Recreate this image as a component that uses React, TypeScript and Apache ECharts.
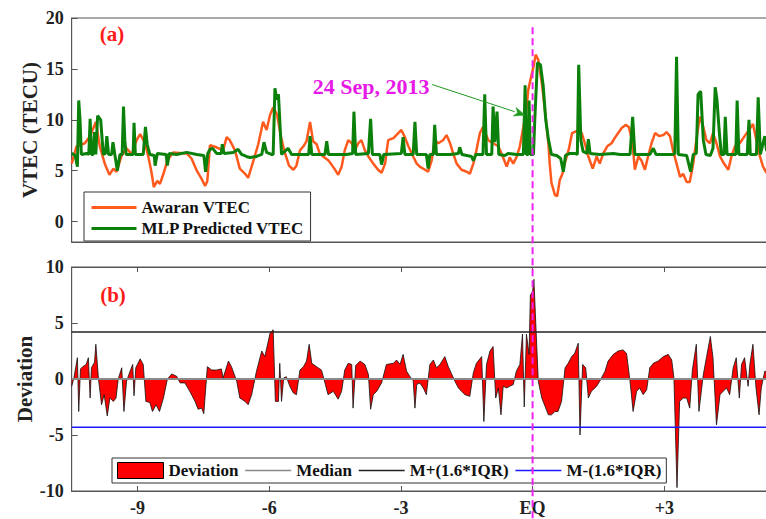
import React, { useEffect, useRef } from 'react';
import * as echarts from 'echarts';

// ---- axes / ticks ----
const dayRange: [number, number] = [-10.5, 5.5];
const xTickValues = [-9, -6, -3, 0, 3];
const xTickLabels = ['-9', '-6', '-3', 'EQ', '+3'];
const vtecRange: [number, number] = [-2, 20];
const vtecTicks = [0, 5, 10, 15, 20];
const deviationRange: [number, number] = [-10, 10];

// ---- series (day relative to EQ, value) ----
const awaranVTEC: [number, number][] = [
  [-10.5, 5.7], [-10.39, 7.4], [-10.2, 7.7], [-10.08, 8.4], [-9.95, 9.8], [-9.86, 7.4], [-9.74, 5.6], [-9.64, 4.6],
  [-9.55, 5.2], [-9.48, 4.9], [-9.36, 6.5], [-9.25, 7.2], [-9.13, 6.6], [-9.02, 8.0], [-8.94, 8.6], [-8.83, 7.7],
  [-8.75, 6.3], [-8.68, 4.8], [-8.63, 3.4], [-8.55, 4.0], [-8.49, 3.7], [-8.41, 4.7], [-8.32, 6.0], [-8.19, 6.8],
  [-7.88, 6.7], [-7.77, 6.2], [-7.65, 5.0], [-7.54, 4.2], [-7.46, 3.5], [-7.41, 4.0], [-7.35, 7.5], [-7.2, 7.3],
  [-7.05, 7.0], [-6.97, 8.3], [-6.9, 8.0], [-6.78, 7.0], [-6.67, 5.2], [-6.55, 4.7], [-6.48, 4.3], [-6.38, 5.7],
  [-6.25, 7.6], [-6.14, 9.8], [-6.06, 9.0], [-5.98, 10.5], [-5.91, 11.2], [-5.82, 10.5], [-5.74, 8.5], [-5.66, 7.0],
  [-5.55, 5.5], [-5.45, 5.1], [-5.38, 5.5], [-5.3, 7.0], [-5.22, 7.4], [-5.15, 7.9], [-5.07, 9.8], [-5.0, 7.9],
  [-4.92, 7.6], [-4.85, 6.7], [-4.77, 6.4], [-4.65, 6.0], [-4.58, 5.6], [-4.5, 5.1], [-4.43, 4.6], [-4.35, 5.4],
  [-4.28, 7.0], [-4.2, 8.0], [-4.12, 7.7], [-4.05, 7.0], [-3.97, 7.7], [-3.9, 8.0], [-3.82, 7.0], [-3.74, 6.4],
  [-3.63, 5.7], [-3.52, 5.1], [-3.44, 4.8], [-3.36, 5.7], [-3.29, 8.0], [-3.17, 8.2], [-3.06, 8.7], [-2.99, 9.0],
  [-2.91, 8.3], [-2.83, 7.4], [-2.72, 6.4], [-2.64, 5.7], [-2.57, 5.4], [-2.45, 5.1], [-2.38, 4.9], [-2.3, 6.0],
  [-2.23, 8.0], [-2.15, 7.7], [-2.04, 8.0], [-1.96, 8.5], [-1.88, 7.7], [-1.81, 6.7], [-1.73, 5.7], [-1.62, 5.1],
  [-1.5, 4.9], [-1.43, 4.7], [-1.35, 5.7], [-1.28, 7.0], [-1.2, 8.7], [-1.13, 9.3], [-1.01, 8.0], [-0.9, 7.7],
  [-0.78, 7.4], [-0.68, 6.4], [-0.59, 5.4], [-0.52, 6.3], [-0.44, 5.7], [-0.36, 6.4], [-0.29, 7.4], [-0.21, 9.3],
  [-0.15, 10.6], [-0.1, 12.9], [-0.05, 13.9], [0.02, 15.2], [0.07, 16.4], [0.13, 15.9], [0.21, 13.6], [0.28, 11.0],
  [0.36, 7.7], [0.39, 5.7], [0.43, 3.8], [0.51, 2.6], [0.56, 2.5], [0.62, 4.1], [0.68, 4.7], [0.75, 6.0],
  [0.83, 7.2], [0.9, 8.7], [1.0, 8.9], [1.12, 8.7], [1.19, 7.7], [1.27, 6.4], [1.37, 5.2], [1.46, 6.4],
  [1.53, 5.7], [1.61, 6.7], [1.7, 7.4], [1.8, 7.7], [1.87, 8.2], [1.95, 8.7], [2.03, 9.2], [2.12, 9.5],
  [2.19, 9.3], [2.27, 8.0], [2.33, 5.1], [2.41, 6.4], [2.48, 6.0], [2.56, 5.1], [2.63, 6.4], [2.71, 7.7],
  [2.79, 8.7], [2.88, 8.4], [2.98, 8.5], [3.05, 8.8], [3.13, 8.4], [3.2, 7.0], [3.28, 5.7], [3.36, 4.4],
  [3.43, 4.7], [3.51, 3.9], [3.58, 3.9], [3.66, 5.7], [3.73, 8.0], [3.81, 10.3], [3.89, 9.3], [3.96, 8.0],
  [4.04, 7.7], [4.11, 8.7], [4.19, 7.7], [4.27, 6.4], [4.36, 5.7], [4.46, 5.1], [4.53, 6.4], [4.61, 7.4],
  [4.72, 7.7], [4.83, 8.4], [4.93, 9.0], [5.02, 9.6], [5.1, 8.0], [5.18, 6.4], [5.25, 5.4], [5.33, 4.8], [5.5, 5.6],
];

const mlpVTEC: [number, number][] = [
  [-10.5, 6.7], [-10.42, 6.5], [-10.37, 5.4], [-10.34, 11.9], [-10.31, 10.0], [-10.28, 6.6], [-10.16, 6.7], [-10.11, 6.6],
  [-10.08, 10.1], [-10.05, 6.6], [-10.01, 6.6], [-9.98, 8.8], [-9.95, 6.6], [-9.91, 10.4], [-9.84, 10.0], [-9.78, 6.6],
  [-9.73, 6.7], [-9.7, 8.4], [-9.66, 6.6], [-9.59, 6.6], [-9.56, 7.8], [-9.51, 6.4], [-9.46, 5.0], [-9.4, 6.6],
  [-9.35, 6.6], [-9.32, 11.3], [-9.29, 8.0], [-9.26, 6.6], [-9.13, 6.6], [-9.1, 6.6], [-9.08, 9.7], [-9.05, 6.6],
  [-8.87, 6.6], [-8.82, 9.3], [-8.78, 7.6], [-8.72, 6.6], [-8.62, 6.5], [-8.6, 5.5], [-8.55, 6.7], [-8.35, 6.6],
  [-8.32, 5.5], [-8.28, 6.7], [-8.11, 6.6], [-7.88, 6.8], [-7.65, 6.6], [-7.49, 6.5], [-7.45, 4.9], [-7.4, 6.7],
  [-7.35, 7.1], [-7.29, 7.2], [-7.2, 6.7], [-7.09, 6.7], [-7.07, 7.6], [-7.03, 6.7], [-6.82, 6.8], [-6.71, 7.1],
  [-6.63, 6.6], [-6.52, 6.4], [-6.44, 6.3], [-6.29, 6.4], [-6.17, 6.6], [-6.12, 7.8], [-6.06, 6.8], [-5.95, 6.6],
  [-5.91, 6.6], [-5.87, 13.1], [-5.83, 12.0], [-5.79, 12.5], [-5.76, 10.0], [-5.72, 6.6], [-5.57, 7.2], [-5.49, 6.6],
  [-5.3, 6.6], [-5.1, 6.6], [-5.07, 8.4], [-5.03, 6.6], [-4.73, 6.6], [-4.69, 7.9], [-4.65, 6.6], [-4.24, 6.6],
  [-4.1, 6.7], [-4.07, 10.8], [-4.03, 6.6], [-3.74, 6.7], [-3.69, 10.1], [-3.65, 6.6], [-3.48, 6.6], [-3.44, 5.6],
  [-3.39, 6.6], [-2.99, 6.7], [-2.95, 8.3], [-2.91, 6.6], [-2.72, 6.6], [-2.68, 9.8], [-2.64, 6.6], [-2.42, 6.6],
  [-2.38, 5.2], [-2.34, 6.6], [-2.26, 6.6], [-2.23, 9.5], [-2.19, 6.6], [-1.88, 6.6], [-1.69, 6.7], [-1.66, 7.3],
  [-1.61, 6.6], [-1.39, 6.4], [-1.35, 6.0], [-1.29, 6.6], [-1.13, 6.6], [-1.09, 12.5], [-1.05, 6.6], [-0.93, 6.6],
  [-0.9, 11.3], [-0.86, 7.8], [-0.81, 10.8], [-0.77, 6.6], [-0.63, 6.5], [-0.55, 6.7], [-0.36, 6.6], [-0.21, 6.6],
  [-0.17, 13.4], [-0.14, 6.6], [-0.1, 6.6], [-0.08, 11.9], [-0.05, 6.6], [0.02, 6.6], [0.05, 10.0], [0.11, 15.6],
  [0.18, 15.4], [0.24, 13.4], [0.3, 10.0], [0.36, 8.1], [0.43, 6.6], [0.55, 6.5], [0.64, 6.2], [0.7, 4.9],
  [0.75, 6.5], [0.85, 6.7], [0.96, 6.7], [1.02, 6.6], [1.05, 15.4], [1.1, 8.0], [1.15, 6.9], [1.24, 6.7],
  [1.27, 8.1], [1.31, 6.7], [1.53, 6.6], [1.84, 6.7], [1.99, 6.6], [2.22, 6.6], [2.28, 10.3], [2.33, 6.6],
  [2.67, 6.6], [2.75, 7.2], [2.81, 6.6], [3.2, 6.6], [3.24, 6.7], [3.28, 16.2], [3.32, 6.6], [3.51, 6.5],
  [3.6, 4.9], [3.66, 6.6], [3.73, 6.7], [3.77, 12.5], [3.83, 12.8], [3.89, 8.0], [3.95, 6.6], [4.05, 6.5],
  [4.11, 7.2], [4.16, 13.2], [4.2, 12.0], [4.25, 9.0], [4.3, 6.6], [4.36, 6.6], [4.39, 10.3], [4.43, 6.6],
  [4.63, 6.6], [4.66, 11.9], [4.7, 6.6], [4.89, 6.6], [4.93, 10.0], [4.96, 6.6], [5.1, 6.6], [5.14, 12.2],
  [5.19, 6.6], [5.29, 8.4], [5.33, 7.0], [5.5, 6.8],
];

const deviation: [number, number][] = [
  [-10.5, -0.65], [-10.45, 0.1], [-10.37, 1.9], [-10.34, -2.9], [-10.3, 0.9], [-10.25, 1.1], [-10.17, 1.3], [-10.12, 1.9],
  [-10.08, -1.7], [-10.05, 1.0], [-9.98, 1.5], [-9.95, 3.1], [-9.89, 0.0], [-9.82, -2.3], [-9.76, -1.4], [-9.69, -3.3],
  [-9.63, -1.7], [-9.55, -2.0], [-9.49, -1.7], [-9.44, 0.0], [-9.36, 1.0], [-9.31, -2.9], [-9.25, -0.2], [-9.17, 0.7],
  [-9.11, 1.3], [-9.08, -1.5], [-9.04, 1.0], [-8.94, 1.8], [-8.87, 1.3], [-8.81, -2.0], [-8.72, -2.1], [-8.66, -2.9],
  [-8.58, -2.3], [-8.5, -2.9], [-8.41, -1.7], [-8.32, 0.0], [-8.22, 0.45], [-8.11, 0.25], [-8.03, -0.35], [-7.92, -0.35],
  [-7.81, -1.1], [-7.69, -2.0], [-7.62, -2.7], [-7.54, -2.6], [-7.49, -3.1], [-7.41, 1.1], [-7.31, 0.8], [-7.2, 0.8],
  [-7.09, 0.9], [-7.05, 0.1], [-6.93, 1.6], [-6.86, 1.1], [-6.74, -0.2], [-6.67, -1.7], [-6.55, -2.0], [-6.48, -2.3],
  [-6.4, -1.4], [-6.29, 0.7], [-6.17, 2.5], [-6.1, 2.0], [-5.98, 4.1], [-5.91, 4.4], [-5.86, -2.0], [-5.79, -2.0],
  [-5.76, 1.4], [-5.72, -2.0], [-5.67, 0.1], [-5.61, 0.2], [-5.53, -0.65], [-5.45, -1.25], [-5.38, -1.4], [-5.3, 0.8],
  [-5.22, 1.1], [-5.15, 1.6], [-5.09, 3.1], [-5.03, 1.4], [-4.92, 1.1], [-4.81, 0.8], [-4.73, -0.35], [-4.66, -1.4],
  [-4.54, -1.1], [-4.43, -1.8], [-4.35, -1.1], [-4.28, 0.8], [-4.2, 1.4], [-4.12, 1.3], [-4.09, -2.6], [-4.03, 1.2],
  [-3.93, 1.6], [-3.82, 1.3], [-3.74, 0.4], [-3.69, -2.7], [-3.63, -1.4], [-3.55, -1.1], [-3.44, -0.35], [-3.33, 1.3],
  [-3.17, 1.4], [-3.1, 1.7], [-3.02, 1.3], [-2.95, 2.2], [-2.87, 0.7], [-2.8, 0.25], [-2.72, -0.15], [-2.68, -2.6],
  [-2.64, -0.5], [-2.57, -0.35], [-2.49, -0.8], [-2.42, -1.4], [-2.34, 1.3], [-2.26, 1.7], [-2.19, 1.0], [-2.11, 1.3],
  [-2.0, 2.0], [-1.92, 1.1], [-1.85, 0.5], [-1.77, -0.2], [-1.69, -0.8], [-1.62, -1.1], [-1.54, -1.4], [-1.43, -1.55],
  [-1.35, 0.55], [-1.28, 1.4], [-1.16, 2.0], [-1.11, -3.8], [-1.05, 1.3], [-0.97, 2.5], [-0.9, 2.9], [-0.84, -1.7],
  [-0.78, -0.8], [-0.72, -3.2], [-0.67, -0.65], [-0.59, -0.8], [-0.52, -0.65], [-0.44, -0.5], [-0.37, 0.7], [-0.29, 1.3],
  [-0.23, 4.0], [-0.19, -2.5], [-0.14, 4.0], [-0.08, 2.2], [-0.05, 7.5], [0.0, 7.8], [0.03, 8.9], [0.08, 4.3],
  [0.13, -0.2], [0.21, -1.7], [0.28, -2.4], [0.36, -3.2], [0.43, -3.2], [0.51, -2.9], [0.58, -2.9], [0.66, -2.0],
  [0.74, 1.0], [0.81, 1.4], [0.89, 2.0], [0.96, 2.3], [1.04, 3.2], [1.08, -5.0], [1.14, 1.3], [1.21, 1.0],
  [1.27, -1.7], [1.34, -1.1], [1.46, -0.65], [1.53, -0.2], [1.65, 0.7], [1.72, 1.6], [1.84, 2.2], [1.95, 2.5],
  [2.06, 2.6], [2.14, 2.3], [2.22, -0.2], [2.29, -2.9], [2.37, -1.1], [2.44, -0.8], [2.52, -1.4], [2.6, -0.95],
  [2.67, 1.0], [2.75, 1.4], [2.86, 1.6], [2.98, 2.0], [3.09, 2.2], [3.17, 1.7], [3.22, 0.1], [3.29, -9.7],
  [3.35, -2.0], [3.43, -1.7], [3.51, -1.7], [3.58, -2.6], [3.64, 0.8], [3.73, 3.1], [3.79, -2.9], [3.89, 0.4],
  [3.96, 1.9], [4.05, 3.8], [4.11, 1.9], [4.19, -4.1], [4.27, -1.4], [4.34, -1.1], [4.42, -0.8], [4.49, -1.4],
  [4.57, 1.0], [4.64, 1.9], [4.71, -1.7], [4.76, 1.3], [4.83, 1.9], [4.91, -0.65], [4.95, 1.3], [5.02, 3.1],
  [5.09, -0.8], [5.16, -3.2], [5.21, -0.8], [5.29, 0.7], [5.5, 0.5],
];

const medianLevel = 0;
const upperLimit = 4.2; // M+(1.6*IQR)
const lowerLimit = -4.3; // M-(1.6*IQR)

// ---- annotations (data coordinates) ----
const eventLabel = '24 Sep, 2013';
const eventLabelAt: [number, number] = [-3.68, 13.3];
const arrowFrom: [number, number] = [-2.29, 13.47];
const arrowTo: [number, number] = [-0.17, 10.46];
const eqLineTop = 19.1;
const panelA: [number, number] = [-9.58, 18.4];
const panelB: [number, number] = [-9.56, 7.5];

const FONT = '"Liberation Serif", "Times New Roman", serif';
const AXIS_COLOR = '#555';
const TEXT_COLOR = '#222';

export default function App() {
  const ref = useRef<HTMLDivElement>(null);

  useEffect(() => {
    if (!ref.current) return;
    const chart = echarts.init(ref.current, undefined, { renderer: 'svg' });

    const tickFont = { fontFamily: FONT, fontWeight: 'bold' as const, fontSize: 18, color: TEXT_COLOR };
    const legendText = { fontFamily: FONT, fontWeight: 'bold' as const, fontSize: 17, color: '#111' };
    const xFormatter = (v: number) => {
      const i = xTickValues.indexOf(v);
      return i >= 0 ? xTickLabels[i] : '';
    };
    const flat = (level: number): [number, number][] => [[dayRange[0], level], [dayRange[1], level]];

    const option: any = {
      animation: false,
      backgroundColor: '#fff',
      grid: [
        { left: 71.7, top: 18, right: -8, height: 224, show: true, borderColor: AXIS_COLOR, borderWidth: 1, containLabel: false, outerBoundsMode: 'none' },
        { left: 71.7, top: 267, right: -8, height: 224, show: true, borderColor: AXIS_COLOR, borderWidth: 1, containLabel: false, outerBoundsMode: 'none' },
      ],
      xAxis: [
        {
          type: 'value', gridIndex: 0, min: dayRange[0], max: dayRange[1],
          axisLine: { show: true, onZero: false, lineStyle: { color: AXIS_COLOR } },
          axisTick: { show: false }, axisLabel: { show: false }, splitLine: { show: false },
        },
        {
          type: 'value', gridIndex: 1, min: dayRange[0], max: dayRange[1],
          axisLine: { show: true, onZero: false, lineStyle: { color: AXIS_COLOR } },
          axisTick: { show: true, inside: true, length: 5, customValues: xTickValues, lineStyle: { color: AXIS_COLOR } },
          axisLabel: { show: true, customValues: xTickValues, formatter: xFormatter, margin: 8, ...tickFont },
          splitLine: { show: false },
        },
        {
          type: 'value', gridIndex: 1, position: 'top', min: dayRange[0], max: dayRange[1],
          axisLine: { show: true, onZero: false, lineStyle: { color: AXIS_COLOR } },
          axisTick: { show: true, inside: true, length: 5, customValues: xTickValues, lineStyle: { color: AXIS_COLOR } },
          axisLabel: { show: false }, splitLine: { show: false },
        },
      ],
      yAxis: [
        {
          type: 'value', gridIndex: 0, min: vtecRange[0], max: vtecRange[1],
          name: 'VTEC (TECU)', nameLocation: 'middle', nameGap: 31, nameMoveOverlap: false,
          nameTextStyle: { fontFamily: FONT, fontWeight: 'bold', fontSize: 21, color: TEXT_COLOR },
          axisLine: { show: true, onZero: false, lineStyle: { color: AXIS_COLOR } },
          axisTick: { show: true, inside: true, length: 6, customValues: vtecTicks, lineStyle: { color: AXIS_COLOR } },
          axisLabel: { show: true, customValues: vtecTicks, margin: 8, ...tickFont },
          splitLine: { show: false },
        },
        {
          type: 'value', gridIndex: 1, min: deviationRange[0], max: deviationRange[1], interval: 5,
          name: 'Deviation', nameLocation: 'middle', nameGap: 36, nameMoveOverlap: false,
          nameTextStyle: { fontFamily: FONT, fontWeight: 'bold', fontSize: 21, color: TEXT_COLOR },
          axisLine: { show: true, onZero: false, lineStyle: { color: AXIS_COLOR } },
          axisTick: { show: true, inside: true, length: 6, lineStyle: { color: AXIS_COLOR } },
          axisLabel: { show: true, margin: 8, ...tickFont },
          splitLine: { show: false },
        },
      ],
      legend: [
        {
          data: ['Awaran VTEC', 'MLP Predicted VTEC'],
          orient: 'vertical', left: 84, top: 192, padding: [7, 6, 4, 6], itemGap: 4,
          itemWidth: 45, itemHeight: 14, borderColor: '#333', borderWidth: 1, borderRadius: 0,
          backgroundColor: '#fff', textStyle: legendText, selectedMode: false,
          itemStyle: { opacity: 0 }, lineStyle: { width: 3 },
        },
        {
          data: [
            { name: 'Deviation', icon: 'rect', itemStyle: { color: '#ff0000', borderColor: '#000', borderWidth: 1, opacity: 1 } },
            'Median', 'M+(1.6*IQR)', 'M-(1.6*IQR)',
          ],
          orient: 'horizontal', left: 112, top: 458, padding: [4, 5, 4, 5], itemGap: 6,
          itemWidth: 46, itemHeight: 16, borderColor: '#333', borderWidth: 1, borderRadius: 0,
          backgroundColor: '#fff', textStyle: legendText, selectedMode: false,
          itemStyle: { opacity: 0 }, lineStyle: { width: 1.6 },
        },
      ],
      series: [
        {
          name: 'Awaran VTEC', type: 'line', xAxisIndex: 0, yAxisIndex: 0, data: awaranVTEC,
          symbol: 'none', lineStyle: { color: '#FF5A1E', width: 2.5 }, itemStyle: { color: '#FF5A1E' }, z: 2,
        },
        {
          name: 'MLP Predicted VTEC', type: 'line', xAxisIndex: 0, yAxisIndex: 0, data: mlpVTEC,
          symbol: 'none', lineStyle: { color: '#0B800B', width: 3 }, itemStyle: { color: '#0B800B' }, z: 3,
        },
        {
          name: 'Deviation', type: 'line', xAxisIndex: 1, yAxisIndex: 1, data: deviation,
          symbol: 'none', lineStyle: { color: '#111', width: 0.8 }, itemStyle: { color: '#ff0000' },
          areaStyle: { color: '#ff0000', opacity: 1 }, z: 2,
        },
        {
          name: 'Median', type: 'line', xAxisIndex: 1, yAxisIndex: 1, data: flat(medianLevel),
          symbol: 'none', lineStyle: { color: '#8a8a8a', width: 2 }, itemStyle: { color: '#8a8a8a' }, z: 3,
        },
        {
          name: 'M+(1.6*IQR)', type: 'line', xAxisIndex: 1, yAxisIndex: 1, data: flat(upperLimit),
          symbol: 'none', lineStyle: { color: '#222', width: 1.5 }, itemStyle: { color: '#222' }, z: 3,
        },
        {
          name: 'M-(1.6*IQR)', type: 'line', xAxisIndex: 1, yAxisIndex: 1, data: flat(lowerLimit),
          symbol: 'none', lineStyle: { color: '#1a1aff', width: 1.5 }, itemStyle: { color: '#1a1aff' }, z: 3,
        },
      ],
    };

    chart.setOption(option);

    const top = (p: [number, number]) => chart.convertToPixel({ xAxisIndex: 0, yAxisIndex: 0 }, p) as number[];
    const bot = (p: [number, number]) => chart.convertToPixel({ xAxisIndex: 1, yAxisIndex: 1 }, p) as number[];

    const eq = top([0, eqLineTop]);
    const lbl = top(eventLabelAt);
    const a0 = top(arrowFrom);
    const a1 = top(arrowTo);
    const pa = top(panelA);
    const pb = bot(panelB);

    const dx = a1[0] - a0[0];
    const dy = a1[1] - a0[1];
    const len = Math.sqrt(dx * dx + dy * dy);
    const ux = dx / len, uy = dy / len;
    const headLen = 11, headHalf = 4.5;
    const bx = a1[0] - ux * headLen, by = a1[1] - uy * headLen;
    const head = [
      [a1[0], a1[1]],
      [bx - uy * headHalf, by + ux * headHalf],
      [bx + ux * 3, by + uy * 3],
      [bx + uy * headHalf, by - ux * headHalf],
    ];

    chart.setOption({
      graphic: [
        {
          type: 'line', z: 100, silent: true,
          shape: { x1: eq[0], y1: eq[1], x2: eq[0], y2: 519 },
          style: { stroke: '#EE22EE', lineWidth: 2, lineDash: [7, 4] },
        },
        {
          type: 'text', z: 100, x: lbl[0], y: lbl[1],
          style: { text: eventLabel, fill: '#E619E6', fontFamily: FONT, fontWeight: 'bold', fontSize: 22, align: 'center', verticalAlign: 'middle' },
        },
        {
          type: 'line', z: 100, silent: true,
          shape: { x1: a0[0], y1: a0[1], x2: bx, y2: by },
          style: { stroke: '#1E9A1E', lineWidth: 1 },
        },
        {
          type: 'polygon', z: 100, silent: true,
          shape: { points: head },
          style: { fill: '#1E9A1E', stroke: '#1E9A1E', lineWidth: 0.5 },
        },
        {
          type: 'text', z: 100, x: pa[0], y: pa[1],
          style: { text: '(a)', fill: '#FF1A1A', fontFamily: FONT, fontWeight: 'bold', fontSize: 21, align: 'center', verticalAlign: 'middle' },
        },
        {
          type: 'text', z: 100, x: pb[0], y: pb[1],
          style: { text: '(b)', fill: '#FF1A1A', fontFamily: FONT, fontWeight: 'bold', fontSize: 21, align: 'center', verticalAlign: 'middle' },
        },
      ],
    });

    return () => chart.dispose();
  }, []);

  return (
    <div
      ref={ref}
      style={{ position: 'absolute', left: 0, top: 0, width: 766, height: 519, background: '#fff' }}
    />
  );
}
